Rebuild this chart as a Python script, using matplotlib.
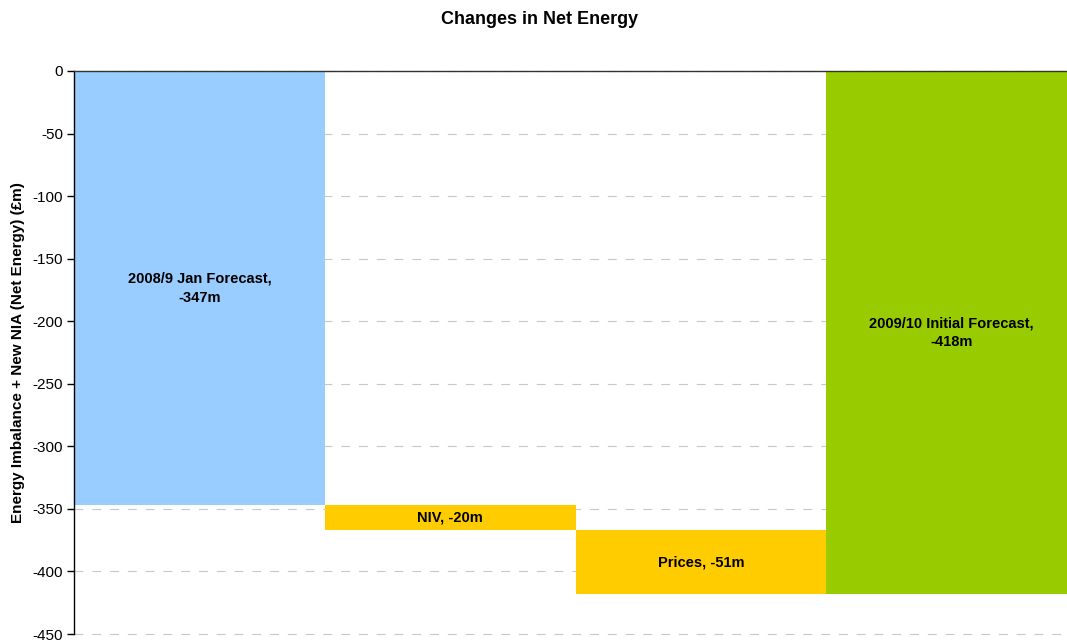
import matplotlib
matplotlib.use("Agg")
import matplotlib.pyplot as plt

plt.rcParams['font.family'] = ['Liberation Sans', 'DejaVu Sans']

categories = ["2008/9 Jan Forecast", "NIV", "Prices", "2009/10 Initial Forecast"]
labels = ["2008/9 Jan Forecast,\n-347m", "NIV, -20m", "Prices, -51m", "2009/10 Initial Forecast,\n-418m"]
tops = [0, -347, -367, 0]
bottoms = [-347, -367, -418, -418]
colors = ["#99CCFF", "#FFCC00", "#FFCC00", "#99CC00"]
yticks = [0, -50, -100, -150, -200, -250, -300, -350, -400, -450]

fig = plt.figure(figsize=(10.67, 6.44), dpi=100)
ax = fig.add_axes([74/1067, 10/644, (1077-74)/1067, (634-71)/644])

x = list(range(len(categories)))
heights = [b - t for t, b in zip(tops, bottoms)]
ax.bar(x, heights, bottom=tops, width=1.0, color=colors, zorder=2)
for xi, t, b, lab in zip(x, tops, bottoms, labels):
    ax.text(xi, (t + b) / 2, lab, ha='center', va='center', fontsize=10.5,
            fontweight='bold', zorder=3, linespacing=1.45)

ax.set_xlim(-0.5, len(categories) - 0.5)
ax.set_ylim(-450, 0)
ax.set_yticks(yticks)
ax.set_yticklabels([str(v) for v in yticks], fontsize=11)
ax.set_xticks([])
ax.yaxis.grid(True, linestyle=(0, (8, 8)), color='#c8c8c8', linewidth=0.8, zorder=0)
for gl in ax.get_ygridlines():
    gl.set_clip_on(False)
ax.set_axisbelow(True)
ax.spines['right'].set_visible(False)
ax.spines['bottom'].set_visible(False)
ax.spines['top'].set_color('#333333')
ax.spines['top'].set_linewidth(1.0)
ax.spines['left'].set_linewidth(1.0)
ax.spines['top'].set_zorder(4)
ax.tick_params(axis='y', direction='out', length=5, width=1, pad=3)

ax.set_ylabel("Energy Imbalance + New NIA (Net Energy) (£m)", fontsize=11,
              fontweight='bold')
ax.yaxis.set_label_coords(-49/1003, 0.5)

fig.text(540/1067, 1 - 19/644, "Changes in Net Energy", ha='center', va='center',
         fontsize=13, fontweight='bold')

fig.savefig("out.png", dpi=100)
